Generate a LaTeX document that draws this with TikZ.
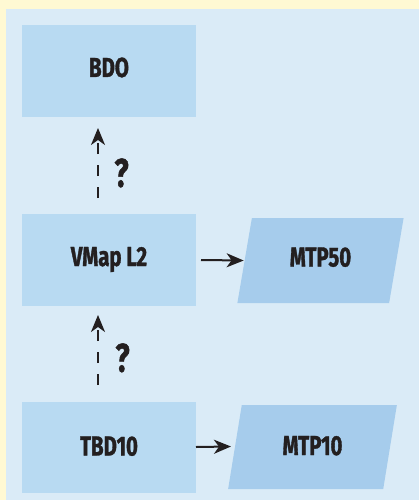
\documentclass[tikz,border=0pt]{standalone}
\usepackage{fontspec}
\newfontfamily\lblfont{Fira Sans}[FakeStretch=0.74,FakeBold=1.2]
\usetikzlibrary{arrows.meta,shapes.geometric}
\definecolor{frameyellow}{HTML}{FFF9D3}
\definecolor{panelblue}{HTML}{DAEBF7}
\definecolor{boxblue}{HTML}{B8DAF2}
\definecolor{parablue}{HTML}{A6CCEC}
\definecolor{inkdark}{HTML}{231F20}
\tikzset{
  boxnode/.style={fill=boxblue, minimum width=174pt, minimum height=92pt, inner sep=0pt, outer sep=0pt,
    font=\lblfont\bfseries\fontsize{27.5}{30}\selectfont, text=inkdark, text height=19pt, text depth=7pt},
  paranode/.style={trapezium, trapezium stretches=true, fill=parablue, inner sep=0pt, outer sep=0pt,
    font=\lblfont\bfseries\fontsize{27.5}{30}\selectfont, text=inkdark, text height=19pt, text depth=7pt},
  flowarrow/.style={draw=inkdark, line width=2pt, -{Stealth[length=17pt,width=14pt,inset=5pt]}},
  dasharrow/.style={flowarrow, dash pattern=on 11pt off 11pt},
  qmark/.style={font=\lblfont\bfseries\fontsize{40}{44}\selectfont, text=inkdark, inner sep=0pt, text height=28pt, text depth=0pt}
}
\begin{document}
\begin{tikzpicture}[x=1pt,y=-1pt]
\fill[frameyellow] (0,0) rectangle (419,500);
\fill[panelblue] (6,9) rectangle (419,500);
\useasboundingbox (0,0) rectangle (419,500);

\node[boxnode] (bdo) at (109,71) {BDO};
\node[boxnode] (vmap) at (109,260) {VMap L2};
\node[boxnode, minimum height=91pt, text depth=3pt] (tbd) at (109,447.5) {TBD10};

\node[paranode, minimum width=167pt, minimum height=85pt,
      trapezium left angle=76, trapezium right angle=104] (mtp50) at (320.5,260.5) {MTP50};
\node[paranode, minimum width=169pt, minimum height=84pt, text depth=3pt,
      trapezium left angle=75.3, trapezium right angle=104.7] (mtp10) at (312.5,447) {MTP10};

\draw[flowarrow] ([xshift=5pt]vmap.east) -- ([xshift=-1pt]mtp50.west);
\draw[flowarrow] ([yshift=0.5pt]tbd.east) -- ([xshift=-4pt,yshift=0.5pt]mtp10.west);

\draw[dasharrow] ([xshift=-11pt,yshift=16pt]vmap.north) -- ([xshift=-11pt,yshift=-11pt]bdo.south)
  node[qmark, pos=0.36, xshift=23.5pt] (q1) {?};
\draw[dasharrow] ([xshift=-11pt,yshift=17pt]tbd.north) -- ([xshift=-11pt,yshift=-9pt]vmap.south)
  node[qmark, pos=0.39, xshift=24.5pt] (q2) {?};
\end{tikzpicture}
\end{document}
